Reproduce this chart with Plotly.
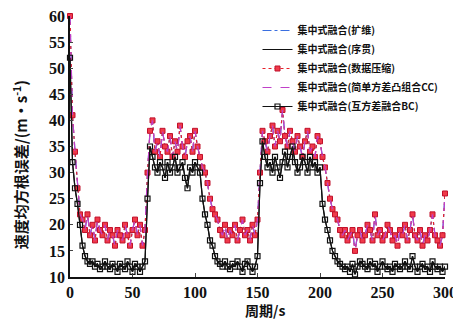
import numpy as np
import plotly.graph_objects as go

# Time axis (s), sampled every 2 s
t = list(range(0, 301, 2))

# Upper group (扩维 / 数据压缩 / CC)
upper = [60, 41, 34, 27, 22, 21, 19, 22, 18, 20, 17, 21, 19, 18, 20, 17, 19, 18, 16, 19,
         18, 17, 20, 18, 16, 19, 21, 18, 20, 16, 19, 30, 38, 40, 34, 36, 33, 38, 35, 34,
         37, 33, 36, 34, 39, 35, 33, 36, 37, 34, 38, 35, 33, 31, 30, 28, 25, 23, 22, 21,
         19, 18, 20, 17, 19, 18, 20, 17, 19, 21, 18, 19, 17, 20, 18, 21, 30, 38, 36, 34,
         37, 39, 35, 38, 36, 42, 37, 35, 38, 36, 34, 37, 35, 33, 36, 38, 34, 35, 33, 37,
         36, 33, 31, 28, 25, 23, 22, 21, 19, 18, 19, 17, 18, 19, 15, 18, 19, 17, 18, 20,
         19, 17, 22, 18, 19, 17, 18, 20, 19, 17, 18, 16, 19, 18, 20, 17, 19, 22, 18, 17,
         19, 16, 18, 17, 19, 22, 18, 17, 16, 18, 26]

# Lower group (序贯 / BC)
lower = [52, 32, 27, 24, 20, 16, 14, 13, 12.5, 13, 12, 12.5, 11.5, 12, 13, 12, 11.5, 12.5, 12, 11,
         12.5, 12, 11.5, 13, 12, 11, 12.5, 12, 11, 12, 13, 25, 35, 33, 31, 30, 32, 31, 29, 32,
         30, 31, 33, 30, 31, 32, 29, 27, 31, 30, 32, 31, 30, 25, 22, 20, 17, 16, 14, 13,
         12.5, 12, 13, 12, 11.5, 12.5, 12, 13, 12, 11, 12.5, 13, 12, 11, 12, 14, 28, 36, 33, 31,
         32, 30, 33, 31, 29, 32, 34, 31, 33, 35, 32, 30, 31, 33, 32, 30, 33, 31, 32, 30,
         31, 24, 21, 19, 17, 15, 14, 13, 12.5, 12, 11.5, 12, 11, 12.5, 10.5, 12, 13, 12.5, 12, 11.5,
         13, 12, 12.5, 11, 12, 13, 12, 11.5, 12, 11, 12.5, 12, 11.5, 12, 13, 12, 11.5, 14, 12, 11,
         12, 12.5, 11.5, 12, 11, 13, 12, 11.5, 12, 11, 12]

names = ["集中式融合(扩维)", "集中式融合(序贯)", "集中式融合(数据压缩)",
         "集中式融合(简单方差凸组合CC)", "集中式融合(互方差融合BC)"]

x_ticks = [0, 50, 100, 150, 200, 250, 300]
y_ticks = [10, 15, 20, 25, 30, 35, 40, 45, 50, 55, 60]

fig = go.Figure()
fig.add_trace(go.Scatter(x=t, y=upper, name=names[0], mode="lines",
                         line=dict(color="#3a6fe0", width=1.2, dash="dashdot")))
fig.add_trace(go.Scatter(x=t, y=lower, name=names[1], mode="lines",
                         line=dict(color="#111111", width=1.2)))
fig.add_trace(go.Scatter(x=t, y=upper, name=names[2], mode="lines+markers",
                         line=dict(color="#e8202a", width=1.2, dash="dot"),
                         marker=dict(symbol="square", size=5, color="#f03a4a",
                                     line=dict(color="#c0102a", width=1)),
                         cliponaxis=False))
fig.add_trace(go.Scatter(x=t, y=upper, name=names[3], mode="lines",
                         line=dict(color="#c040c8", width=1.2, dash="dash")))
fig.add_trace(go.Scatter(x=t, y=lower, name=names[4], mode="lines+markers",
                         line=dict(color="#111111", width=1.2),
                         marker=dict(symbol="square-open", size=5, color="#111111",
                                     line=dict(width=1.2)),
                         cliponaxis=False))

serif = "Liberation Serif, Noto Sans CJK SC, serif"
cjk = "Noto Sans CJK SC"
# The page body adds an 8 px margin, so the figure is 8 px smaller each way
fig.update_layout(
    width=453, height=313,
    margin=dict(l=62, r=16, t=8, b=44),
    paper_bgcolor="white", plot_bgcolor="white",
    font=dict(family=serif, color="#111111"),
    showlegend=True,
    legend=dict(x=0.50, y=1.0, xanchor="left", yanchor="top",
                bgcolor="rgba(0,0,0,0)", font=dict(size=10, family=cjk, weight="bold"),
                tracegroupgap=0, itemwidth=30),
    xaxis=dict(range=[0, 300], tickvals=x_ticks, ticks="inside", ticklen=4,
               showline=True, linecolor="#111111", linewidth=1.5, showgrid=False, zeroline=False,
               tickfont=dict(size=16, family=serif, weight="bold"), automargin=False,
               ticklabeloverflow="allow"),
    yaxis=dict(range=[10, 60], tickvals=y_ticks, ticks="inside", ticklen=3,
               showline=True, linecolor="#111111", linewidth=1.5, showgrid=False, zeroline=False,
               tickfont=dict(size=16, family=serif, weight="bold"), automargin=False,
               ticklabeloverflow="allow"),
    annotations=[
        dict(text="周期/s", xref="paper", yref="paper", x=0.52, y=-0.125,
             xanchor="center", yanchor="middle", showarrow=False,
             font=dict(size=14, family=cjk, weight="bold")),
        dict(text="速度均方根误差/(m·s<sup>-1</sup>)", xref="paper", yref="paper",
             x=-0.135, y=0.43, xanchor="center", yanchor="middle", textangle=-90,
             showarrow=False, font=dict(size=15, family=cjk, weight="bold")),
    ],
)

fig.write_html("out.html")
